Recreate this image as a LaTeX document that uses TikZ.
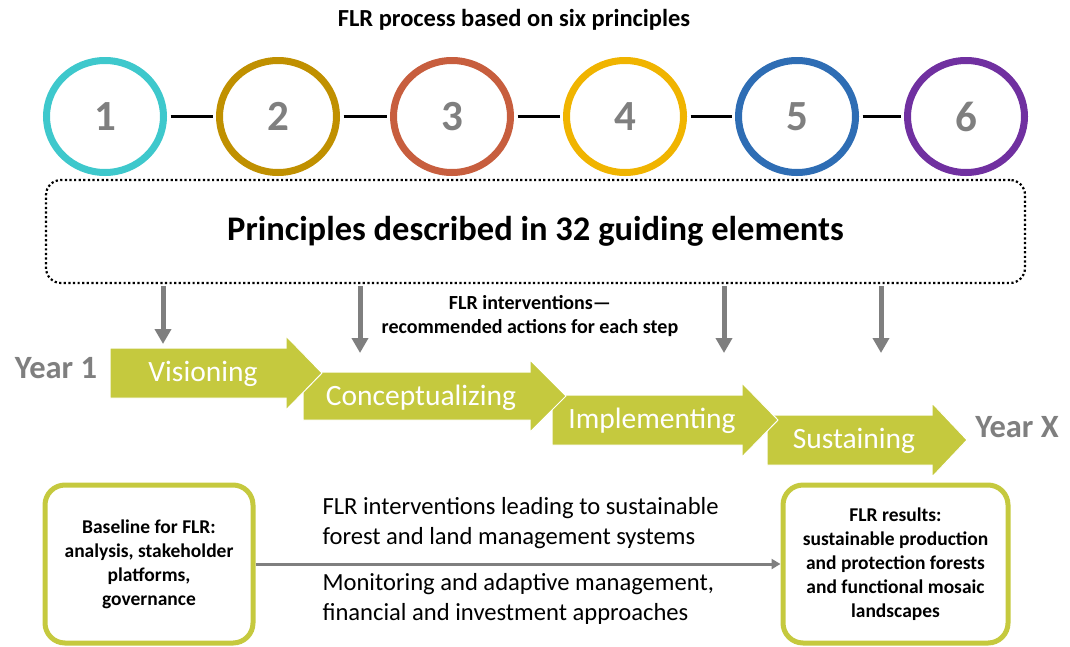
\documentclass[tikz,border=0pt]{standalone}
\usepackage{fontspec}
\setmainfont{Carlito}
\usetikzlibrary{positioning,shapes,arrows.meta}

\definecolor{ringa}{RGB}{62,200,204}
\definecolor{ringb}{RGB}{192,144,0}
\definecolor{ringc}{RGB}{199,94,62}
\definecolor{ringd}{RGB}{240,180,0}
\definecolor{ringe}{RGB}{46,109,180}
\definecolor{ringf}{RGB}{112,48,160}
\definecolor{flrgreen}{RGB}{197,201,62}
\definecolor{flrgray}{RGB}{127,127,127}

\begin{document}
\begin{tikzpicture}[x=1pt,y=-1pt,
  ring/.style={ellipse, draw, line width=7pt, minimum width=117pt, minimum height=112pt, inner sep=0pt,
    font=\fontsize{43}{43}\selectfont\bfseries, text=flrgray},
  link/.style={line width=3.5pt, shorten <=3.5pt, shorten >=3.5pt},
  drop/.style={line width=5pt, color=flrgray, -{Triangle[width=16pt,length=15pt]}},
  stepshape/.style={fill=flrgreen, draw=white, line width=1pt},
  steplabel/.style={text=white, font=\fontsize{29.5}{30}\selectfont},
  yearlabel/.style={text=flrgray, font=\fontsize{32.5}{33}\selectfont\bfseries},
  endbox/.style={draw=flrgreen, line width=5pt, rounded corners=20pt, align=center,
    font=\fontsize{19.5}{24}\selectfont\bfseries},
  flow/.style={line width=3pt, color=flrgray, -{Triangle[width=10pt,length=9pt]}}]
\useasboundingbox (0,0) rectangle (1070,646);

\node[font=\fontsize{24.5}{25}\selectfont\bfseries] (title) at (514,20) {FLR process based on six principles};

% principles
\node[ring, draw=ringa] (p1) at (105,116.5) {1};
\node[ring, draw=ringb] (p2) at (278,116.5) {2};
\node[ring, draw=ringc] (p3) at (452,116.5) {3};
\node[ring, draw=ringd] (p4) at (625,116.5) {4};
\node[ring, draw=ringe] (p5) at (797,116.5) {5};
\node[ring, draw=ringf] (p6) at (966,116.5) {6};
\draw[link] (p1) -- (p2);
\draw[link] (p2) -- (p3);
\draw[link] (p3) -- (p4);
\draw[link] (p4) -- (p5);
\draw[link] (p5) -- (p6);

\node[draw, line width=2.2pt, dash pattern=on 2.2pt off 2.4pt, rounded corners=15pt,
  minimum width=979pt, minimum height=103pt, font=\fontsize{34.5}{35}\selectfont\bfseries]
  (guide) at (535.5,231.5) {Principles described in 32 guiding elements};

\coordinate (d1) at (163,344);
\coordinate (d2) at (360,353);
\coordinate (d3) at (724,353);
\coordinate (d4) at (881,353);
\draw[drop] (guide.south -| d1) ++(0,2) -- (d1);
\draw[drop] (guide.south -| d2) ++(0,2) -- (d2);
\draw[drop] (guide.south -| d3) ++(0,2) -- (d3);
\draw[drop] (guide.south -| d4) ++(0,2) -- (d4);

\node[align=center, font=\fontsize{20}{24}\selectfont\bfseries] (actions) at (530,316)
  {FLR interventions—\\recommended actions for each step};

% steps
\filldraw[stepshape] (767,415) -- (932,415) -- (932,403) -- (967,440) -- (932,477) -- (932,465) -- (767,465) -- cycle;
\filldraw[stepshape] (552,395) -- (742,395) -- (742,383) -- (778,420) -- (742,457) -- (742,445) -- (552,445) -- cycle;
\filldraw[stepshape] (303,372) -- (530,372) -- (530,360) -- (566,396) -- (530,432) -- (530,420) -- (303,420) -- cycle;
\filldraw[stepshape] (110,348) -- (286,348) -- (286,336) -- (322,373) -- (286,410) -- (286,398) -- (110,398) -- cycle;
\node[steplabel] (vis) at (203,374) {Visioning};
\node[steplabel] (con) at (421,398) {Conceptualizing};
\node[steplabel] (imp) at (652,421) {Implementing};
\node[steplabel] (sus) at (854,441) {Sustaining};

\node[yearlabel] (year1) at (56,368) {Year 1};
\node[yearlabel] (yearx) at (1017,427) {Year X};

% baseline and results
\node[endbox, minimum width=208pt, minimum height=158pt] (base) at (149,564)
  {Baseline for FLR:\\analysis, stakeholder\\platforms,\\governance};
\node[endbox, minimum width=225pt, minimum height=158pt] (result) at (895.5,564)
  {FLR results:\\sustainable production\\and protection forests\\and functional mosaic\\landscapes};
\draw[flow] (base) -- (result);

\node[anchor=west, align=left, font=\fontsize{24.6}{29.5}\selectfont] (lead) at (319,523)
  {FLR interventions leading to sustainable\\forest and land management systems};
\node[anchor=west, align=left, font=\fontsize{24.6}{29.5}\selectfont] (monitor) at (319,599)
  {Monitoring and adaptive management,\\financial and investment approaches};
\end{tikzpicture}
\end{document}
